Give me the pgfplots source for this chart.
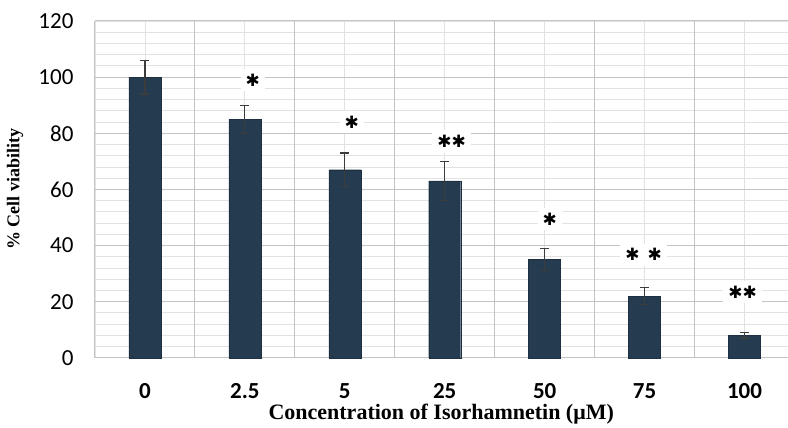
\documentclass[border=0pt]{standalone}
\usepackage{pgfplots}
\pgfplotsset{compat=1.18}
\usepackage{fontspec}
\setmainfont{Carlito}
\newfontfamily\labfont{Liberation Serif}
\newfontfamily\symfont{DejaVu Sans}

\definecolor{barcol}{HTML}{243B50}
\definecolor{errcol}{HTML}{3C3C3C}
\definecolor{majgrid}{HTML}{C4C4C4}
\definecolor{mingrid}{HTML}{E2E2E2}

\begin{document}
\begin{tikzpicture}
\begin{axis}[
    at={(0,0)}, anchor=south west,
    scale only axis,
    width=693pt, height=337pt,
    ybar, bar width=32pt,
    xmin=-0.5, xmax=6.43,
    ymin=0, ymax=120,
    xtick={0,...,6},
    xticklabels={0,2.5,5,25,50,75,100},
    minor xtick={-0.5,0.5,...,5.5},
    ytick={0,20,...,120},
    minor ytick={4,8,...,116},
    grid=both,
    major grid style={mingrid, line width=0.8pt},
    minor grid style={mingrid, line width=0.8pt},
    major tick length=0pt, minor tick length=0pt,
    axis line style={majgrid, line width=1pt},
    axis x line*=bottom, axis y line*=left,
    /pgf/number format/assume math mode=true,
    yticklabel style={font=\fontsize{23}{26}\selectfont, xshift=-18pt},
    xticklabel style={font=\fontsize{23}{26}\selectfont\bfseries, yshift=-22pt},
    xlabel={\labfont\bfseries Concentration of Isorhamnetin (μM)},
    ylabel={\labfont\bfseries \% Cell viability},
    xlabel style={font=\fontsize{22}{24}\selectfont,
        at={(axis description cs:0.5,0)}, anchor=center, yshift=-56pt},
    ylabel style={font=\fontsize{18}{20}\selectfont,
        at={(axis description cs:0,0.5)}, anchor=center, yshift=80pt},
    clip=false,
]
% major grid lines drawn darker on top of the light ones
\pgfplotsinvokeforeach{20,40,60,80,100,120}{
  \draw[majgrid, line width=1pt] (axis cs:-0.5,#1) -- (axis cs:6.43,#1);
}
\pgfplotsinvokeforeach{-0.5,0.5,1.5,2.5,3.5,4.5,5.5}{
  \draw[majgrid, line width=1pt] (axis cs:#1,0) -- (axis cs:#1,120);
}
\addplot[fill=barcol, draw=barcol!80!black,
    error bars/.cd, y dir=both, y explicit,
    error bar style={errcol, line width=1.3pt},
    error mark options={rotate=90, mark size=4.5pt, line width=1.3pt, errcol}]
  coordinates {
    (0,100) +- (0,6)
    (1,85)  +- (0,5)
    (2,67)  +- (0,6)
    (3,63)  +- (0,7)
    (4,35)  +- (0,4)
    (5,22)  +- (0,3)
    (6,8)   +- (0,1)
  };
\begin{scope}[every node/.style={fill=white, inner sep=5pt, font=\symfont\fontsize{17}{19}\selectfont}]
\node at (axis cs:1.08,99) {✱};
\node at (axis cs:2.07,84) {✱};
\node at (axis cs:3.07,77) {✱✱};
\node at (axis cs:4.05,49.5) {✱};
\node at (axis cs:4.99,36.7) {✱\hspace{8pt}✱};
\node at (axis cs:5.98,23.5) {✱✱};
\end{scope}
\end{axis}
\path (-95pt,-65pt) rectangle (693pt,358pt);
\end{tikzpicture}
\end{document}
